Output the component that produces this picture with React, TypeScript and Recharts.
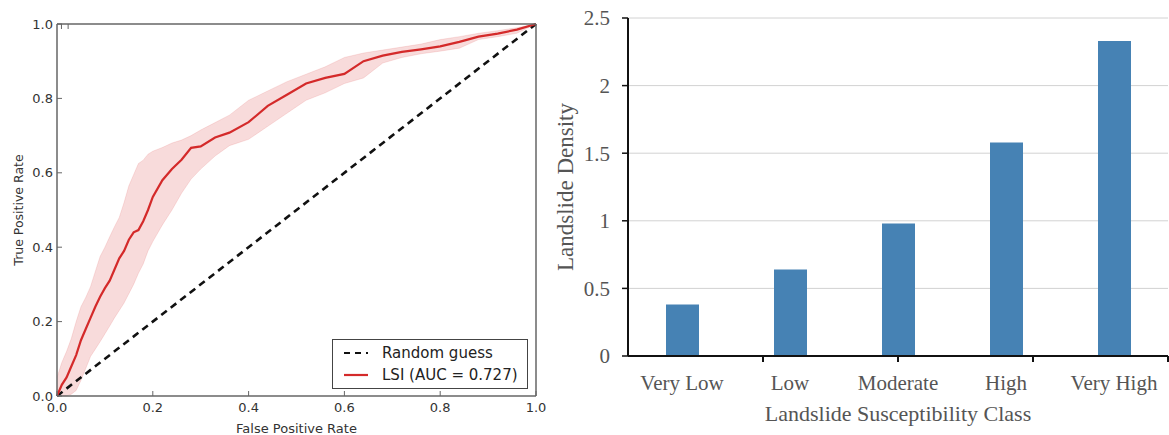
import React from "react";
import {
  Area,
  Bar,
  BarChart,
  CartesianGrid,
  ComposedChart,
  Legend,
  Line,
  XAxis,
  YAxis,
} from "recharts";

// ROC curve (left panel)
const fprGrid = [
  0, 0.01, 0.02, 0.03, 0.04, 0.05, 0.06, 0.07, 0.08, 0.09, 0.1, 0.11, 0.12, 0.13, 0.14, 0.15, 0.16,
  0.17, 0.18, 0.19, 0.2, 0.22, 0.24, 0.26, 0.28, 0.3, 0.33, 0.36, 0.4, 0.44, 0.48, 0.52, 0.56, 0.6,
  0.64, 0.68, 0.72, 0.76, 0.8, 0.84, 0.88, 0.92, 0.96, 1.0,
];
const tprMean = [
  0, 0.03, 0.05, 0.08, 0.11, 0.15, 0.18, 0.21, 0.24, 0.267, 0.29, 0.31, 0.34, 0.37, 0.39, 0.42, 0.44,
  0.446, 0.47, 0.5, 0.535, 0.58, 0.61, 0.635, 0.667, 0.671, 0.695, 0.708, 0.736, 0.78, 0.81, 0.84,
  0.855, 0.866, 0.9, 0.915, 0.925, 0.932, 0.94, 0.952, 0.966, 0.974, 0.985, 1.0,
];
const tprLow = [
  0, 0, 0, 0.005, 0.015, 0.042, 0.074, 0.106, 0.126, 0.146, 0.167, 0.188, 0.21, 0.23, 0.25, 0.275,
  0.3, 0.33, 0.355, 0.39, 0.415, 0.46, 0.5, 0.545, 0.583, 0.61, 0.645, 0.673, 0.69, 0.725, 0.76,
  0.795, 0.815, 0.84, 0.855, 0.895, 0.91, 0.92, 0.927, 0.935, 0.958, 0.966, 0.975, 1.0,
];
const tprHigh = [
  0.05, 0.09, 0.12, 0.155, 0.2, 0.24, 0.265, 0.294, 0.335, 0.375, 0.4, 0.428, 0.455, 0.48, 0.52,
  0.565, 0.595, 0.625, 0.634, 0.65, 0.658, 0.668, 0.68, 0.688, 0.7, 0.715, 0.735, 0.755, 0.795, 0.82,
  0.845, 0.865, 0.885, 0.91, 0.922, 0.93, 0.938, 0.946, 0.958, 0.966, 0.975, 0.982, 0.99, 1.0,
];
const rateTicks = [0, 0.2, 0.4, 0.6, 0.8, 1.0];
const guessLine = [
  { fpr: 0, guess: 0 },
  { fpr: 1, guess: 1 },
];
const legendItems = [
  { label: "Random guess", color: "#111", dash: "6 5" },
  { label: "LSI (AUC = 0.727)", color: "#d42a2a", dash: undefined },
];

// Landslide density (right panel)
const classes = ["Very Low", "Low", "Moderate", "High", "Very High"];
const density = [0.38, 0.64, 0.98, 1.58, 2.33];
const densityTicks = [0, 0.5, 1, 1.5, 2, 2.5];
const classEdges = [1, 2, 3, 4];

const rocData = fprGrid.map((fpr, i) => ({
  fpr,
  tpr: tprMean[i],
  band: [tprLow[i], tprHigh[i]],
}));
const barData = classes.map((name, i) => ({ name, density: density[i] }));

const fmt1 = (v: number) => v.toFixed(1);
const blank = () => "";
const frame = { stroke: "#666", strokeWidth: 1.5 };

function RocLegend() {
  return (
    <div
      style={{
        boxSizing: "border-box",
        width: 196,
        height: 50,
        border: "1px solid #444",
        background: "#fff",
        padding: "2px 0 0 10px",
        fontFamily: "'DejaVu Sans', sans-serif",
        fontSize: 15,
        color: "#222",
      }}
    >
      {legendItems.map((item) => (
        <div key={item.label} style={{ display: "flex", alignItems: "center", height: 22 }}>
          <svg width={39} height={10}>
            <line
              x1={1}
              y1={5}
              x2={25}
              y2={5}
              stroke={item.color}
              strokeWidth={2.2}
              strokeDasharray={item.dash}
            />
          </svg>
          <span>{item.label}</span>
        </div>
      ))}
    </div>
  );
}

function RocChart() {
  return (
    <ComposedChart
      width={560}
      height={435}
      data={rocData}
      margin={{ top: 24, right: 24, bottom: 0, left: 0 }}
    >
      <XAxis
        dataKey="fpr"
        type="number"
        domain={[0, 1]}
        ticks={rateTicks}
        tickFormatter={fmt1}
        tickSize={-5}
        tickMargin={12}
        axisLine={frame}
        tickLine={{ stroke: "#666" }}
        tick={{ fill: "#333", fontSize: 13 }}
        height={39}
        label={{ value: "False Positive Rate", position: "insideBottom", offset: 2, fill: "#333", fontSize: 13 }}
      />
      <XAxis
        xAxisId="top"
        orientation="top"
        mirror
        type="number"
        domain={[0, 1]}
        ticks={rateTicks}
        tickFormatter={blank}
        tickSize={5}
        axisLine={frame}
        tickLine={{ stroke: "#666" }}
      />
      <YAxis
        type="number"
        domain={[0, 1]}
        ticks={rateTicks}
        tickFormatter={fmt1}
        width={57}
        tickSize={-5}
        tickMargin={9}
        axisLine={frame}
        tickLine={{ stroke: "#666" }}
        tick={{ fill: "#333", fontSize: 13 }}
        label={{
          value: "True Positive Rate",
          angle: -90,
          position: "insideLeft",
          offset: 19,
          fill: "#333",
          fontSize: 12.5,
          style: { textAnchor: "middle" },
        }}
      />
      <YAxis
        yAxisId="right"
        orientation="right"
        mirror
        type="number"
        domain={[0, 1]}
        ticks={rateTicks}
        tickFormatter={blank}
        tickSize={5}
        axisLine={frame}
        tickLine={{ stroke: "#666" }}
      />
      <Area
        dataKey="band"
        type="linear"
        fill="#d62728"
        fillOpacity={0.17}
        stroke="#d62728"
        strokeOpacity={0.12}
        legendType="none"
        isAnimationActive={false}
      />
      <Line
        data={guessLine}
        dataKey="guess"
        type="linear"
        stroke="#111"
        strokeWidth={2.6}
        strokeDasharray="7 5"
        dot={false}
        isAnimationActive={false}
      />
      <Line
        dataKey="tpr"
        type="linear"
        stroke="#d42a2a"
        strokeWidth={2.2}
        dot={false}
        isAnimationActive={false}
      />
      <Legend
        layout="vertical"
        align="center"
        verticalAlign="middle"
        wrapperStyle={{ left: 332, top: 339, width: 196, height: 50 }}
        content={() => <RocLegend />}
      />
    </ComposedChart>
  );
}

function DensityChart() {
  return (
    <BarChart
      width={629}
      height={435}
      data={barData}
      margin={{ top: 18, right: 1, bottom: 0, left: 0 }}
    >
      <CartesianGrid vertical={false} stroke="#d2d2d2" />
      <XAxis
        dataKey="name"
        interval={0}
        tickLine={false}
        tickSize={0}
        tickMargin={19}
        axisLine={{ stroke: "#111", strokeWidth: 2 }}
        tick={{ fill: "#555", fontSize: 21 }}
        height={79}
        label={{
          value: "Landslide Susceptibility Class",
          position: "insideBottom",
          offset: 14,
          fill: "#555",
          fontSize: 22,
        }}
      />
      <XAxis
        xAxisId="edges"
        type="number"
        domain={[0, 5]}
        ticks={classEdges}
        mirror
        tickSize={-6}
        tickFormatter={blank}
        axisLine={false}
        tickLine={{ stroke: "#111", strokeWidth: 2 }}
      />
      <YAxis
        type="number"
        domain={[0, 2.5]}
        ticks={densityTicks}
        width={88}
        tickSize={6}
        tickMargin={12}
        axisLine={{ stroke: "#111", strokeWidth: 2 }}
        tickLine={{ stroke: "#111", strokeWidth: 1.5 }}
        tick={{ fill: "#555", fontSize: 21 }}
        label={{
          value: "Landslide Density",
          angle: -90,
          position: "insideLeft",
          offset: 25,
          fill: "#555",
          fontSize: 23,
          style: { textAnchor: "middle" },
        }}
      />
      <Bar dataKey="density" fill="#4682b4" barSize={33} isAnimationActive={false} />
    </BarChart>
  );
}

export default function App() {
  return (
    <div
      style={{
        position: "absolute",
        left: 0,
        top: 0,
        width: 1169,
        height: 435,
        background: "#fff",
        overflow: "hidden",
      }}
    >
      <div style={{ position: "absolute", left: 0, top: 0, fontFamily: "'DejaVu Sans', sans-serif" }}>
        <RocChart />
      </div>
      <div style={{ position: "absolute", left: 540, top: 0, fontFamily: "'Liberation Serif', serif" }}>
        <DensityChart />
      </div>
    </div>
  );
}
